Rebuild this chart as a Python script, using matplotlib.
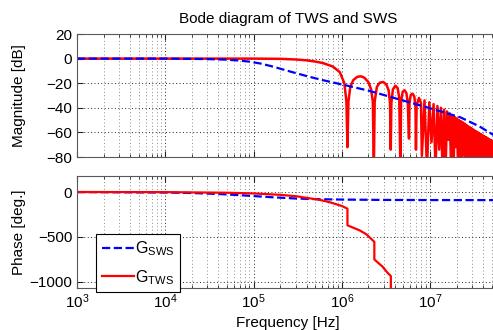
import numpy as np
from matplotlib import pyplot as plt
from matplotlib.ticker import NullFormatter, LogLocator

plt.rcParams['font.family'] = ['Liberation Sans', 'DejaVu Sans']
plt.rcParams['mathtext.fontset'] = 'custom'
plt.rcParams['mathtext.rm'] = 'Liberation Sans'
plt.rcParams['mathtext.it'] = 'Liberation Sans:italic'

# ---- SWS ----
sws_f = [1e3, 1e4, 3e4, 5e4, 7e4, 9e4, 1.2e5, 1.66e5, 2.6e5, 4e5, 6e5, 1e6,
         2e6, 4.3e6, 1.05e7, 2.2e7, 3.6e7, 5.3e7]
sws_mag = [0, 0, -0.4, -0.9, -1.6, -2.5, -4.0, -6.5, -10.5, -14.2, -17.4, -21.0,
           -26.0, -32.8, -40.8, -47.7, -55.0, -62.3]
sws_pf = [1e3, 1e4, 2e4, 4e4, 7e4, 1e5, 1.5e5, 2e5, 3e5, 5e5, 1e6, 3e6, 1e7, 5.3e7]
sws_ph = [-0.6, -5.7, -11, -22, -35, -45, -56, -63, -72, -79, -84, -88, -89.5, -90]

# ---- TWS magnitude: main lobe and first side lobes ----
tws_f_lo = [1e3, 1e5, 2e5, 3e5, 4e5, 5e5, 6.1e5, 7.9e5, 9.5e5, 1.07e6, 1.13e6,
            1.16e6, 1.19e6, 1.25e6, 1.35e6, 1.5e6, 1.65e6, 1.8e6, 2.0e6, 2.15e6, 2.25e6,
            2.31e6, 2.36e6, 2.5e6, 2.7e6, 2.95e6, 3.2e6, 3.4e6, 3.52e6,
            3.59e6, 3.65e6, 3.8e6, 4.05e6, 4.3e6, 4.48e6,
            4.62e6, 4.7e6, 4.9e6, 5.15e6, 5.4e6, 5.6e6,
            5.78e6, 5.85e6, 6.05e6, 6.35e6, 6.65e6, 6.85e6,
            6.93e6, 7.05e6, 7.5e6, 7.9e6]
tws_db_lo = [0, 0, -0.2, -0.7, -1.4, -2.4, -3.6, -6.4, -11.0, -20.0, -35.0,
             -72, -35, -23, -17.5, -14.8, -14.4, -15.5, -19, -25, -35,
             -90, -35, -23, -19.5, -19, -21, -26, -36,
             -74, -36, -25, -22, -24, -32,
             -90, -35, -27, -25.7, -28, -36,
             -65, -36, -29.5, -28.5, -31, -40,
             -74, -38, -32, -36]

# ---- TWS magnitude: dense lobes (notches and lobe tops) ----
notch_f = [8.085e6, 9.24e6, 10.395e6, 11.55e6, 12.705e6, 13.86e6, 15.015e6, 16.17e6, 17.325e6, 18.48e6,
           19.635e6, 20.79e6, 21.945e6, 23.1e6, 24.255e6, 25.41e6, 26.565e6, 27.72e6, 28.875e6, 30.03e6,
           31.185e6, 32.34e6, 33.495e6, 34.65e6, 35.805e6, 36.96e6, 38.115e6, 39.27e6, 40.425e6, 41.58e6,
           42.735e6, 43.89e6, 45.045e6, 46.2e6, 47.355e6, 48.51e6, 49.665e6, 50.82e6, 51.975e6, 53.13e6]
notch_db = [-79, -90, -68, -90, -74, -90, -90, -66, -90, -90,
            -72, -90, -90, -90, -78, -90, -90, -90, -90, -70,
            -90, -90, -90, -90, -90, -90, -75, -90, -90, -90,
            -90, -90, -90, -90, -90, -90, -90, -90, -90, -90]
peak_f = [8.66e6, 9.82e6, 10.97e6, 12.13e6, 13.28e6, 14.44e6, 15.59e6, 16.75e6, 17.90e6, 19.06e6,
          20.21e6, 21.37e6, 22.52e6, 23.68e6, 24.83e6, 25.99e6, 27.14e6, 28.30e6, 29.45e6, 30.61e6,
          31.76e6, 32.92e6, 34.07e6, 35.23e6, 36.38e6, 37.54e6, 38.69e6, 39.85e6, 41.00e6, 42.16e6,
          43.31e6, 44.47e6, 45.62e6, 46.78e6, 47.93e6, 49.09e6, 50.24e6, 51.40e6, 52.55e6]
peak_db = [-34, -35.5, -37, -38.5, -40, -41.5, -43, -44.5, -46, -47.5,
           -48.5, -50, -51, -52, -53, -54, -55, -55.8, -56.6, -57.4,
           -58.2, -59, -59.6, -60.2, -60.8, -61.4, -62, -62.6, -63.1, -63.6,
           -64.1, -64.6, -65.1, -65.6, -66.1, -66.5, -66.9, -67.3, -67.7]

# ---- TWS phase ----
tws_pf = [1e3, 1e4, 5e4, 1e5, 2e5, 3.1e5, 5.6e5, 7.4e5, 1e6, 1.16e6, 1.16e6,
          1.6e6, 1.9e6, 2.34e6, 2.34e6, 2.9e6, 3.25e6, 3.6e6, 3.6e6]
tws_ph = [0, -1.5, -8, -16, -31, -48, -87, -115, -155, -185, -370,
          -427, -470, -554, -750, -830, -890, -935, -1500]

# merge the dense part: notch, top, notch, top, ..., notch
dense_f = np.empty(len(notch_f) + len(peak_f))
dense_db = np.empty_like(dense_f)
dense_f[0::2] = notch_f
dense_f[1::2] = peak_f
dense_db[0::2] = notch_db
dense_db[1::2] = peak_db
tws_f = np.concatenate([tws_f_lo, dense_f])
tws_db = np.concatenate([tws_db_lo, dense_db])

W, H = 493, 330
fig = plt.figure(figsize=(W / 100, H / 100), dpi=100)
ax1 = fig.add_axes([77 / W, 1 - 157 / H, 422 / W, 123 / H])
ax2 = fig.add_axes([77 / W, 1 - 288 / H, 422 / W, 112 / H])

ax1.semilogx(tws_f, tws_db, 'r-', lw=1.8)
ax1.semilogx(sws_f, sws_mag, 'b--', lw=1.6)

l_sws, = ax2.semilogx(sws_pf, sws_ph, 'b--', lw=1.6, label=r'G$_{\mathregular{SWS}}$')
l_tws, = ax2.semilogx(tws_pf, tws_ph, 'r-', lw=1.6, label=r'G$_{\mathregular{TWS}}$')

for ax in (ax1, ax2):
    ax.set_xlim(1e3, 6.05e7)
    ax.xaxis.set_major_locator(LogLocator(base=10, numticks=10))
    ax.xaxis.set_minor_locator(LogLocator(base=10, subs=np.arange(2, 10), numticks=20))
    ax.xaxis.set_minor_formatter(NullFormatter())
    ax.grid(True, which='major', linestyle=(0, (1, 2.5)), color='0.15', lw=0.7)
    ax.grid(True, which='minor', axis='x', linestyle=(0, (1, 2.5)), color='0.55', lw=0.7)
    ax.tick_params(which='both', direction='in', top=True, right=True,
                   labelsize=11, colors='0.15', labelcolor='k')
    ax.tick_params(which='major', length=4)
    ax.tick_params(which='minor', length=2)
    for s in ax.spines.values():
        s.set_color('0.35')
        s.set_linewidth(0.8)

ax1.set_ylim(-80, 20)
ax1.set_yticks([-80, -60, -40, -20, 0, 20])
ax1.tick_params(labelbottom=False)
ax1.set_ylabel('Magnitude [dB]', fontsize=11)
ax1.yaxis.set_label_coords(-0.121, 0.5)
ax1.set_title('Bode diagram of TWS and SWS', fontsize=11, pad=8)

ax2.set_ylim(-1067, 178)
ax2.set_yticks([-1000, -500, 0])
ax2.set_ylabel('Phase [deg.]', fontsize=11)
ax2.yaxis.set_label_coords(-0.121, 0.5)
ax2.set_xlabel('Frequency [Hz]', fontsize=11, labelpad=3)

leg = ax2.legend(handles=[l_sws, l_tws], loc='upper left',
                 bbox_to_anchor=(96 / W, 1 - 234 / H), bbox_transform=fig.transFigure,
                 fancybox=False, framealpha=1, edgecolor='k', fontsize=11.5,
                 handlelength=2.0, handletextpad=0.1, borderpad=0.35,
                 labelspacing=0.6, borderaxespad=0)
leg.get_frame().set_linewidth(0.8)

fig.savefig('out.png', dpi=100)
